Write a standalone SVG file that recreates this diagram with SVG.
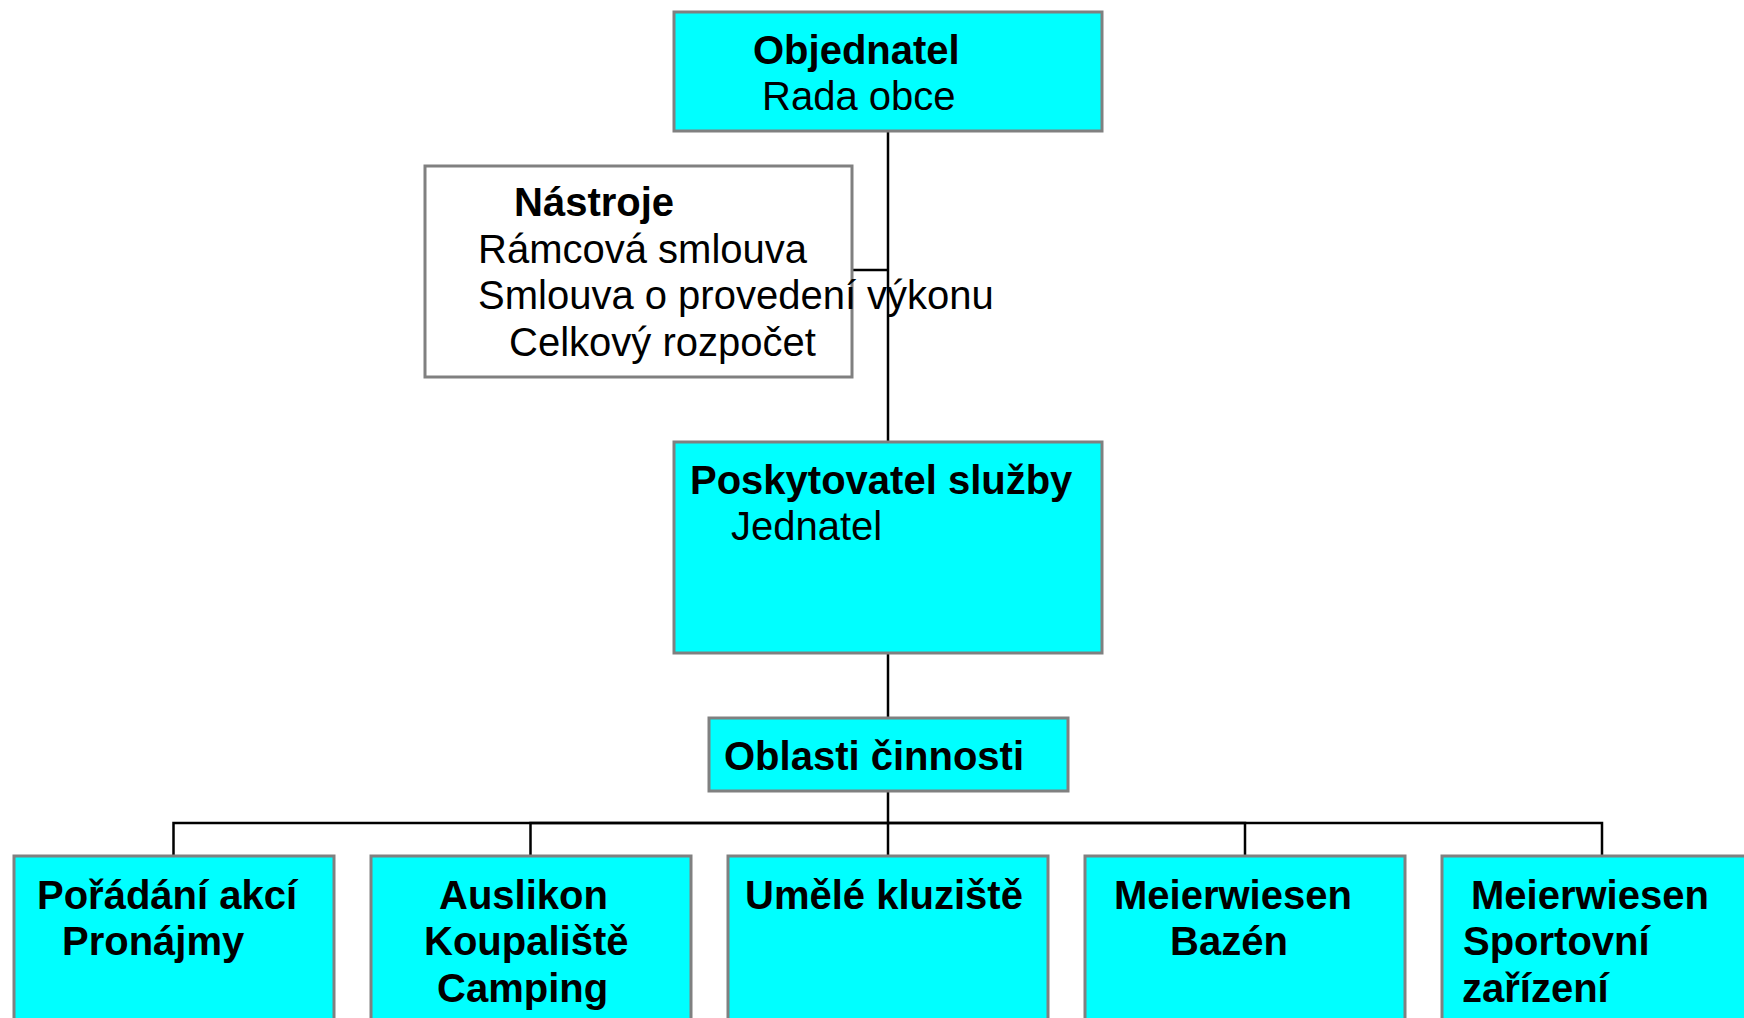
<svg xmlns="http://www.w3.org/2000/svg" width="1744" height="1018" viewBox="0 0 1744 1018">
<style>
.box{fill:#00FFFF;stroke:#808080;stroke-width:3}
.wbox{fill:#FFFFFF;stroke:#808080;stroke-width:3}
.b{font-family:"Liberation Sans",Arial,sans-serif;font-weight:bold;font-size:40px;fill:#000}
.r{font-family:"Liberation Sans",Arial,sans-serif;font-size:40px;fill:#000}
.ln{fill:none;stroke:#000;stroke-width:2.5}
</style>
<rect width="1744" height="1018" fill="#FFFFFF"/>
<g id="connectors">
<path class="ln" d="M888,131 V442"/>
<path class="ln" d="M852,270 H888"/>
<path class="ln" d="M888,653 V718"/>
<path class="ln" d="M888,791 V823 H173.5 V856"/>
<path class="ln" d="M888,823 H530.5 V856"/>
<path class="ln" d="M888,823 V856"/>
<path class="ln" d="M888,823 H1245 V856"/>
<path class="ln" d="M888,823 H1602 V856"/>
</g>
<g id="objednatel">
<rect class="box" x="674" y="12" width="428" height="119"/>
<text class="b" x="753" y="64">Objednatel</text>
<text class="r" x="762" y="110">Rada obce</text>
</g>
<g id="nastroje">
<rect class="wbox" x="425" y="166" width="427" height="211"/>
<text class="b" x="514" y="216">Nástroje</text>
<text class="r" x="478" y="263">Rámcová smlouva</text>
<text class="r" x="478" y="309">Smlouva o provedení výkonu</text>
<text class="r" x="509" y="356">Celkový rozpočet</text>
</g>
<g id="poskytovatel">
<rect class="box" x="674" y="442" width="428" height="211"/>
<text class="b" x="690" y="494">Poskytovatel služby</text>
<text class="r" x="731" y="540">Jednatel</text>
</g>
<g id="oblasti">
<rect class="box" x="709" y="718" width="359" height="73"/>
<text class="b" x="724" y="770">Oblasti činnosti</text>
</g>
<g id="poradani">
<rect class="box" x="14" y="856" width="320" height="200"/>
<text class="b" x="37" y="909">Pořádání akcí</text>
<text class="b" x="62" y="955">Pronájmy</text>
</g>
<g id="auslikon">
<rect class="box" x="371" y="856" width="320" height="200"/>
<text class="b" x="439" y="909">Auslikon</text>
<text class="b" x="424" y="955">Koupaliště</text>
<text class="b" x="437" y="1002">Camping</text>
</g>
<g id="kluziste">
<rect class="box" x="728" y="856" width="320" height="200"/>
<text class="b" x="745" y="909">Umělé kluziště</text>
</g>
<g id="bazen">
<rect class="box" x="1085" y="856" width="320" height="200"/>
<text class="b" x="1114" y="909">Meierwiesen</text>
<text class="b" x="1170" y="955">Bazén</text>
</g>
<g id="sportovni">
<rect class="box" x="1442" y="856" width="320" height="200"/>
<text class="b" x="1471" y="909">Meierwiesen</text>
<text class="b" x="1463" y="955">Sportovní</text>
<text class="b" x="1462" y="1002">zařízení</text>
</g>
</svg>
